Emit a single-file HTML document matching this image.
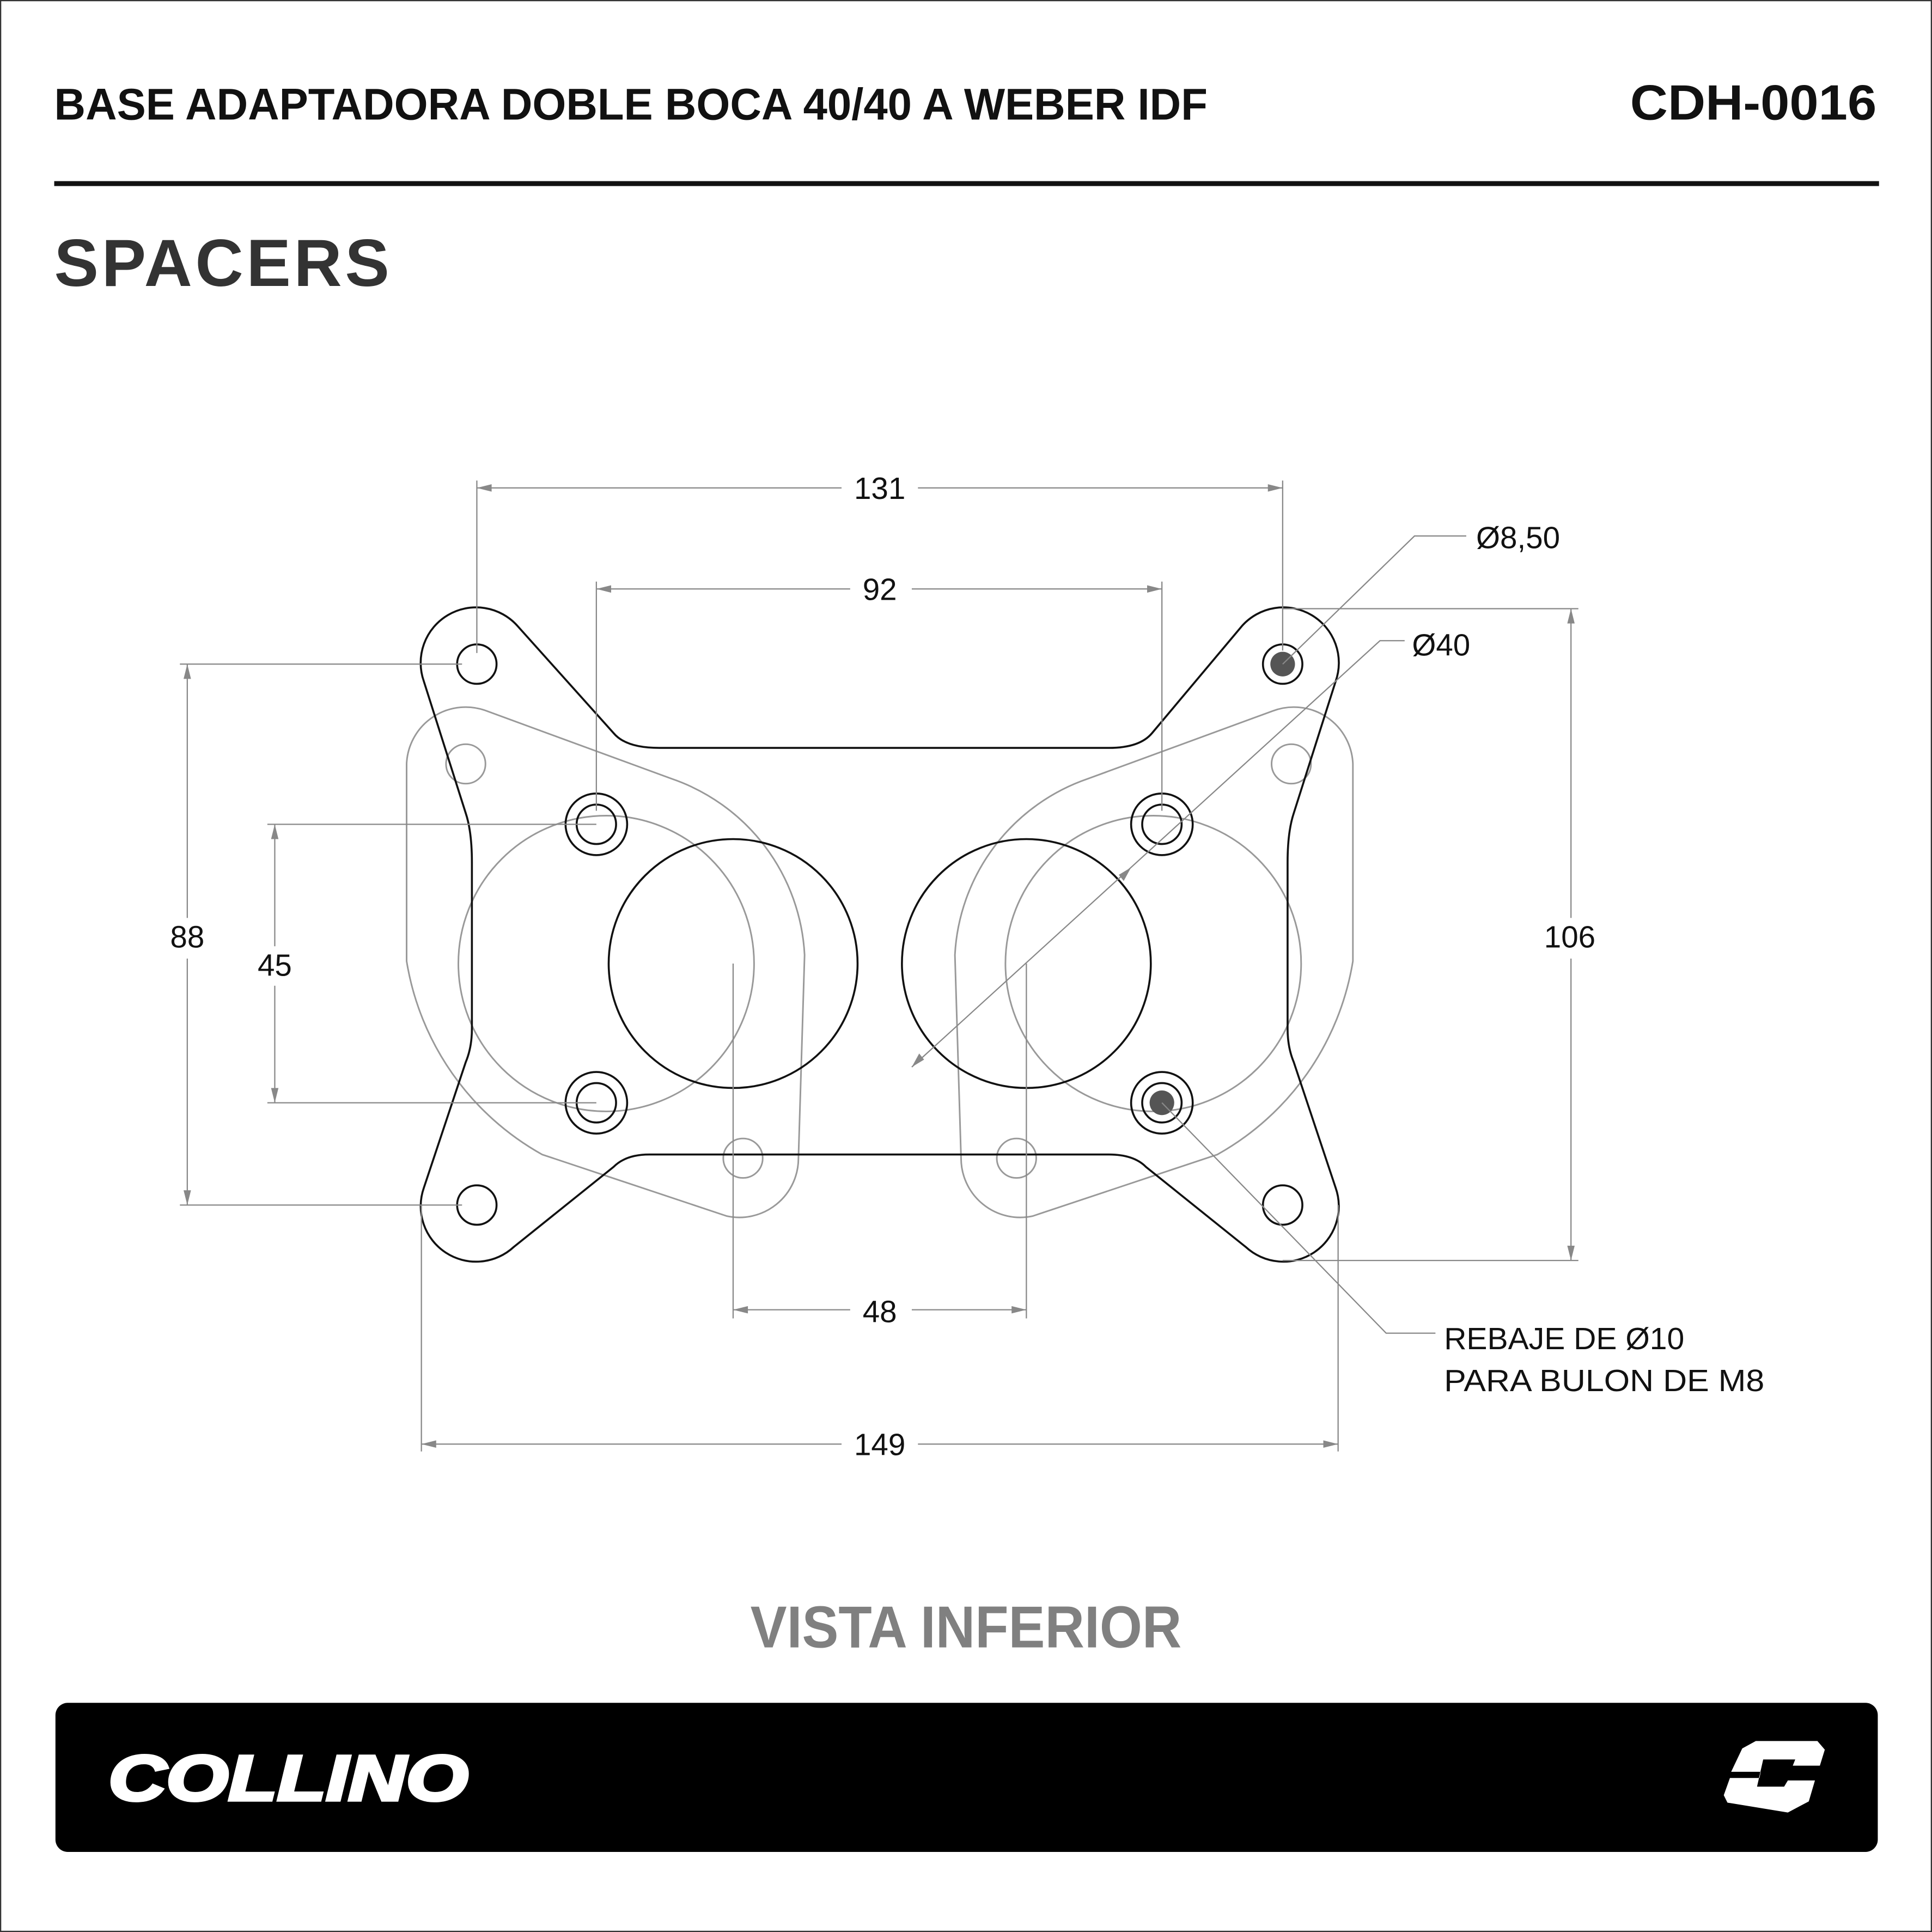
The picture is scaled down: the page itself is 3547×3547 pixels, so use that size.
<!DOCTYPE html>
<html><head><meta charset="utf-8"><style>
html,body{margin:0;padding:0;background:#fff}
svg{display:block}
</style></head><body>
<svg width="3547" height="3547" viewBox="0 0 1568 1568" xmlns="http://www.w3.org/2000/svg">
<rect x="0.5" y="0.5" width="1567" height="1567" fill="#fff" stroke="#333" stroke-width="1"/>
<text x="44" y="97" font-family="Liberation Sans, sans-serif" font-weight="bold" font-size="36" fill="#111" textLength="936" lengthAdjust="spacingAndGlyphs">BASE ADAPTADORA DOBLE BOCA 40/40 A WEBER IDF</text>
<text x="1523" y="97" text-anchor="end" font-family="Liberation Sans, sans-serif" font-weight="bold" font-size="40" fill="#111" textLength="200" lengthAdjust="spacingAndGlyphs">CDH-0016</text>
<rect x="44" y="147" width="1481" height="4" fill="#111"/>
<text x="44" y="232" font-family="Liberation Sans, sans-serif" font-weight="bold" font-size="54" fill="#333" textLength="272" lengthAdjust="spacing">SPACERS</text>

<!-- gray outlines -->
<g fill="none" stroke="#999" stroke-width="1.3">
<path d="M395,577 L545,632 A160 160 0 0 1 653,775 L648,940 A48 48 0 0 1 590,987 L440,937 A220 220 0 0 1 330,780 L330,620 A48 48 0 0 1 395,577 Z"/>
<path d="M1033,577 L883,632 A160 160 0 0 0 775,775 L780,940 A48 48 0 0 0 838,987 L988,937 A220 220 0 0 0 1098,780 L1098,620 A48 48 0 0 0 1033,577 Z"/>
<circle cx="492" cy="782" r="120"/><circle cx="936" cy="782" r="120"/>
<circle cx="378" cy="620" r="16"/><circle cx="603" cy="940" r="16"/>
<circle cx="825" cy="940" r="16"/><circle cx="1048" cy="620" r="16"/>
</g>

<!-- black gasket -->
<g fill="none" stroke="#111" stroke-width="1.6">
<path d="M420,508 L498,595 Q508,607 535,607 L900,607 Q925,607 935,595 L1008,508 A45 45 0 0 1 1084,553 L1050,660 Q1045,675 1045,700 L1045,835 Q1045,850 1050,862 L1084,964 A45 45 0 0 1 1011,1012 L930,947 Q920,937 900,937 L527,937 Q508,937 498,947 L417,1012 A45 45 0 0 1 344,964 L378,862 Q383,850 383,835 L383,700 Q383,675 378,660 L344,553 A45 45 0 0 1 420,508 Z"/>
<circle cx="387" cy="539" r="16"/><circle cx="1041" cy="539" r="16"/>
<circle cx="387" cy="978" r="16"/><circle cx="1041" cy="978" r="16"/>
<circle cx="484" cy="669" r="25"/><circle cx="484" cy="669" r="16"/>
<circle cx="943" cy="669" r="25"/><circle cx="943" cy="669" r="16"/>
<circle cx="484" cy="895" r="25"/><circle cx="484" cy="895" r="16"/>
<circle cx="943" cy="895" r="25"/><circle cx="943" cy="895" r="16"/>
<circle cx="595" cy="782" r="101"/><circle cx="833" cy="782" r="101"/>
</g>
<circle cx="1041" cy="539" r="10" fill="#555"/>
<circle cx="943" cy="895" r="10" fill="#555"/>

<!-- dimensions -->
<g stroke="#888" stroke-width="1" fill="none">
<path d="M387,390 V530 M1041,390 V528 M387,396 H683 M745,396 H1041"/>
<path d="M484,472 V658 M943,472 V658 M484,478 H690 M740,478 H943"/>
<path d="M146,539 H375 M146,978 H375 M152,539 V745 M152,778 V978"/>
<path d="M217,669 H484 M217,895 H484 M223,669 V768 M223,800 V895"/>
<path d="M1041,494 H1281 M1041,1023 H1281 M1275,494 V745 M1275,778 V1023"/>
<path d="M595,782 V1070 M833,782 V1070 M595,1063 H690 M740,1063 H833"/>
<path d="M342,978 V1178 M1086,978 V1178 M342,1172 H683 M745,1172 H1086"/>
<path d="M1041,539 L1148,435 H1190"/>
<path d="M740,866 L1120,520 H1140"/>
<path d="M943,895 L1125,1082 H1165"/>
</g>
<g fill="#888">
<path d="M387,396 l12,-3 v6z M1041,396 l-12,-3 v6z"/>
<path d="M484,478 l12,-3 v6z M943,478 l-12,-3 v6z"/>
<path d="M152,539 l-3,12 h6z M152,978 l-3,-12 h6z"/>
<path d="M223,669 l-3,12 h6z M223,895 l-3,-12 h6z"/>
<path d="M1275,494 l-3,12 h6z M1275,1023 l-3,-12 h6z"/>
<path d="M595,1063 l12,-3 v6z M833,1063 l-12,-3 v6z"/>
<path d="M342,1172 l12,-3 v6z M1086,1172 l-12,-3 v6z"/>
<path d="M740,866 l6,-11 l4,5z M918,704 l-6,11 l-4,-5z"/>
</g>
<g font-family="Liberation Sans, sans-serif" font-size="25" fill="#111" text-anchor="middle">
<text x="714" y="405">131</text>
<text x="714" y="487">92</text>
<text x="152" y="769">88</text>
<text x="223" y="792">45</text>
<text x="1274" y="769">106</text>
<text x="714" y="1073">48</text>
<text x="714" y="1181">149</text>
</g>
<g font-family="Liberation Sans, sans-serif" font-size="25" fill="#111">
<text x="1198" y="445">Ø8,50</text>
<text x="1146" y="532">Ø40</text>
<text x="1172" y="1095" textLength="195" lengthAdjust="spacingAndGlyphs">REBAJE DE Ø10</text>
<text x="1172" y="1129" textLength="260" lengthAdjust="spacingAndGlyphs">PARA BULON DE M8</text>
</g>

<text x="784" y="1337" text-anchor="middle" font-family="Liberation Sans, sans-serif" font-weight="bold" font-size="48" fill="#808080" textLength="350" lengthAdjust="spacingAndGlyphs">VISTA INFERIOR</text>

<rect x="45" y="1382" width="1479" height="121" rx="10" fill="#000"/>
<text x="88" y="1461" font-family="Liberation Sans, sans-serif" font-weight="bold" font-style="italic" font-size="52" fill="#fff" stroke="#fff" stroke-width="2.5" textLength="292" lengthAdjust="spacingAndGlyphs">COLLINO</text>
<path fill="#fff" d="M1414,1419 L1425,1413 L1475,1413 L1481,1420 L1477,1433 L1455,1433 L1457,1428 L1431,1428 L1426,1450 L1448,1450 L1451,1445 L1473,1445 L1468,1462 L1451,1471 L1402,1463 L1399,1457 L1404,1443 L1428,1443 L1429,1438 L1405,1438 Z"/>
</svg>
</body></html>
